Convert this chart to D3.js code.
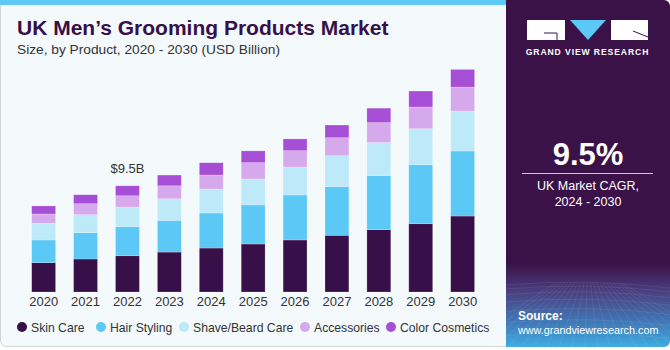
<!DOCTYPE html>
<html>
<head>
<meta charset="utf-8">
<script src="https://cdn.jsdelivr.net/npm/d3@7"></script>
<style>
  body { margin: 0; background: #fff; }
  svg { display: block; font-family: "Liberation Sans", Arial, sans-serif; }
</style>
</head>
<body>
<div id="container"></div>
<script>
// data (USD billion)
let years = ["2020","2021","2022","2023","2024","2025","2026","2027","2028","2029","2030"];
let skinCare       = [2.62, 2.95, 3.24, 3.57, 3.93, 4.29, 4.65, 5.07, 5.57, 6.10, 6.79];
let hairStyling    = [2.03, 2.35, 2.59, 2.83, 3.13, 3.49, 4.02, 4.34, 4.83, 5.27, 5.81];
let shaveBeard     = [1.49, 1.61, 1.76, 1.93, 2.14, 2.32, 2.50, 2.77, 2.95, 3.22, 3.57];
let accessories    = [0.83, 0.98, 1.01, 1.16, 1.25, 1.46, 1.46, 1.61, 1.79, 1.94, 2.14];
let colorCosmetics = [0.72, 0.80, 0.89, 0.96, 1.10, 1.05, 1.05, 1.13, 1.29, 1.43, 1.58];
let seriesNames = ["Skin Care","Hair Styling","Shave/Beard Care","Accessories","Color Cosmetics"];
let seriesColors = ["#371049","#5bc8f5","#bde9f9","#d6a9ed","#a64fd6"];

let w = 670;
let h = 350;

let viz = d3.select("#container")
  .append("svg")
    .attr("width", w)
    .attr("height", h)
;

// left card
viz.append("rect")
  .attr("x", 0.5).attr("y", 0.5)
  .attr("width", 520).attr("height", 346)
  .attr("rx", 6)
  .attr("fill", "#f4f9fc")
  .attr("stroke", "#d2d5d8");
// blue stripe on top
viz.append("rect")
  .attr("x", 0).attr("y", 0)
  .attr("width", 506).attr("height", 5)
  .attr("fill", "#5bc8f5");

// title
viz.append("text")
  .attr("x", 17).attr("y", 35)
  .attr("font-size", 21).attr("font-weight", "bold")
  .attr("fill", "#371049")
  .text("UK Men\u2019s Grooming Products Market");
viz.append("text")
  .attr("x", 17).attr("y", 54)
  .attr("font-size", 13)
  .attr("fill", "#333")
  .attr("textLength", 263).attr("lengthAdjust", "spacingAndGlyphs")
  .text("Size, by Product, 2020 - 2030 (USD Billion)");

// table for the stack
let table = years.map(function(y, i){
  return {
    year: y,
    "Skin Care": skinCare[i],
    "Hair Styling": hairStyling[i],
    "Shave/Beard Care": shaveBeard[i],
    "Accessories": accessories[i],
    "Color Cosmetics": colorCosmetics[i]
  };
});
let stacked = d3.stack().keys(seriesNames)(table);

let xScale = d3.scaleBand()
  .domain(years)
  .range([22.7, 483.6])
  .paddingInner(0.43)
  .paddingOuter(0.215);

let yScale = d3.scaleLinear().domain([0, 20]).range([292, 68.2]);
let color = d3.scaleOrdinal().domain(seriesNames).range(seriesColors);

let graphGroup = viz.append("g").classed("graphGroup", true);
graphGroup.selectAll(".series")
  .data(stacked)
  .enter()
  .append("g")
    .classed("series", true)
    .attr("fill", function(d){ return color(d.key); })
  .selectAll("rect")
  .data(function(d){ return d; })
  .enter()
  .append("rect")
    .attr("x", function(d){ return xScale(d.data.year); })
    .attr("width", xScale.bandwidth())
    .attr("y", function(d){ return yScale(d[1]); })
    .attr("height", function(d){ return yScale(d[0]) - yScale(d[1]); })
    .attr("stroke", "rgba(255,255,255,0.35)")
    .attr("stroke-width", 0.6)
;

// x axis
let xAxis = d3.axisBottom(xScale).tickSize(0).tickPadding(5);
let xAxisGroup = viz.append("g").classed("xAxis", true)
  .attr("transform", "translate(0,292)")
  .call(xAxis);
xAxisGroup.select(".domain").remove();
xAxisGroup.selectAll("text")
  .attr("font-size", 13)
  .attr("font-family", "Liberation Sans, Arial, sans-serif")
  .attr("fill", "#333");

// value label for 2022
let labelIdx = years.indexOf("2022");
let total2022 = d3.sum(stacked, function(s){ return s[labelIdx][1] - s[labelIdx][0]; });
viz.append("text")
  .attr("x", xScale("2022") + xScale.bandwidth()/2)
  .attr("y", yScale(total2022) - 13)
  .attr("text-anchor", "middle")
  .attr("font-size", 13)
  .attr("fill", "#333")
  .text("$" + total2022.toFixed(1) + "B");

// legend
let legendX = [22, 101, 184, 305, 391];
let legend = viz.append("g").selectAll("g")
  .data(seriesNames)
  .enter()
  .append("g")
    .attr("transform", function(d, i){ return "translate(" + legendX[i] + ",327)"; });
legend.append("circle").attr("r", 5).attr("fill", function(d){ return color(d); });
legend.append("text")
  .attr("x", 9).attr("y", 4.5)
  .attr("font-size", 12.2)
  .attr("fill", "#333")
  .text(function(d){ return d; });

// right panel
let defs = viz.append("defs");
let grad = defs.append("linearGradient").attr("id", "panelGrad")
  .attr("x1", 0).attr("y1", 0).attr("x2", 0).attr("y2", 1);
grad.append("stop").attr("offset", "0").attr("stop-color", "#3a1248");
grad.append("stop").attr("offset", "0.76").attr("stop-color", "#3a1248");
grad.append("stop").attr("offset", "0.84").attr("stop-color", "#4a3f80");
grad.append("stop").attr("offset", "0.93").attr("stop-color", "#4079b8");
grad.append("stop").attr("offset", "1").attr("stop-color", "#40ade2");

viz.append("rect")
  .attr("x", 506).attr("y", 0)
  .attr("width", 164).attr("height", 347)
  .attr("rx", 6)
  .attr("fill", "url(#panelGrad)");
viz.append("rect")
  .attr("x", 506).attr("y", 0)
  .attr("width", 10).attr("height", 347)
  .attr("fill", "url(#panelGrad)");

// faint grid in the lower part of the panel
let gridG = viz.append("g").attr("stroke", "rgba(255,255,255,0.13)").attr("stroke-width", 0.6).attr("fill", "none");
d3.range(0, 9).forEach(function(i){
  gridG.append("path").attr("d", "M506," + (285 + i*i*0.9 + i*3) + " Q588," + (278 + i*i*0.9 + i*3) + " 670," + (288 + i*i*0.9 + i*3));
});
d3.range(0, 22).forEach(function(i){
  let x0 = 506 + i*8;
  gridG.append("path").attr("d", "M" + (588 + (x0-588)*0.4) + ",283 L" + (588 + (x0-588)*1.6) + ",347");
});

// logo
let logo = viz.append("g");
logo.append("rect").attr("x", 527).attr("y", 20).attr("width", 38).attr("height", 20).attr("fill", "#fff");
logo.append("path").attr("d", "M544,33 L557,33 L557,40").attr("stroke", "#3a1248").attr("stroke-width", 1).attr("fill", "none");
logo.append("path").attr("d", "M570,20 L606,20 L588,40 Z").attr("fill", "#5bc8f5");
logo.append("rect").attr("x", 611).attr("y", 20).attr("width", 37).attr("height", 20).attr("fill", "#fff");
logo.append("path").attr("d", "M633,31 L648,37").attr("stroke", "#3a1248").attr("stroke-width", 1);
viz.append("text")
  .attr("x", 587.5).attr("y", 55)
  .attr("text-anchor", "middle")
  .attr("font-size", 8.6).attr("font-weight", "bold")
  .attr("letter-spacing", 0.9)
  .attr("fill", "#fff")
  .text("GRAND VIEW RESEARCH");

// CAGR
viz.append("text")
  .attr("x", 588).attr("y", 165)
  .attr("text-anchor", "middle")
  .attr("font-size", 31).attr("font-weight", "bold")
  .attr("fill", "#fff")
  .text("9.5%");
viz.append("line")
  .attr("x1", 522).attr("x2", 653).attr("y1", 173.5).attr("y2", 173.5)
  .attr("stroke", "#ccc").attr("stroke-width", 1);
viz.append("text")
  .attr("x", 588).attr("y", 190)
  .attr("text-anchor", "middle")
  .attr("font-size", 12.5).attr("fill", "#fff")
  .text("UK Market CAGR,");
viz.append("text")
  .attr("x", 588).attr("y", 206)
  .attr("text-anchor", "middle")
  .attr("font-size", 12.5).attr("fill", "#fff")
  .text("2024 - 2030");

// source
viz.append("text")
  .attr("x", 518).attr("y", 320)
  .attr("font-size", 12).attr("font-weight", "bold")
  .attr("fill", "#fff")
  .text("Source:");
viz.append("text")
  .attr("x", 518).attr("y", 334)
  .attr("font-size", 10.8).attr("fill", "#fff")
  .text("www.grandviewresearch.com");
</script>
</body>
</html>
